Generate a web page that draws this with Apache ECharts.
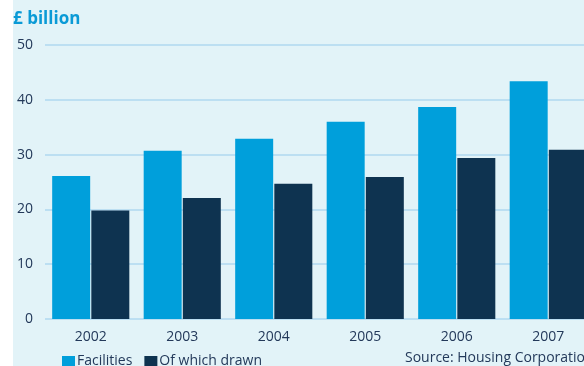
<!DOCTYPE html>
<html>
<head>
<meta charset="utf-8">
<script src="https://cdn.jsdelivr.net/npm/echarts@6/dist/echarts.min.js"></script>
<style>
  html, body { margin: 0; padding: 0; background: #ffffff; overflow: hidden; }
  #wrap { width: 584px; height: 366px; overflow: hidden; }
  #chart { width: 610px; height: 366px; }
</style>
</head>
<body>
<div id="wrap"><div id="chart"></div></div>
<script>
// Years shown on the category axis
const years = ['2002', '2003', '2004', '2005', '2006', '2007'];
// Private finance facilities, £ billion
const facilities = [26.1, 30.7, 32.9, 36.0, 38.7, 43.4];
// Of which drawn, £ billion
const drawn = [19.8, 22.1, 24.7, 25.9, 29.4, 30.9];
// Value axis ticks
const yTicks = [0, 10, 20, 30, 40, 50];

const FONT = '"Open Sans", "Noto Sans", sans-serif';
const TEXT = '#23395a';

const chart = echarts.init(document.getElementById('chart'), null, { renderer: 'canvas' });

chart.setOption({
  animation: false,
  textStyle: { fontFamily: FONT },
  graphic: [
    {
      type: 'rect', z: -10, silent: true,
      shape: { x: 13, y: 0, width: 600, height: 366 },
      style: { fill: '#e2f3f8' }
    },
    {
      type: 'text', left: 13, top: 11,
      style: { text: '£ billion', fill: '#0a9ad6', font: 'bold 17px ' + FONT }
    },
    {
      type: 'text', left: 405, top: 351,
      style: { text: 'Source: Housing Corporation', fill: TEXT, font: '14px ' + FONT }
    }
  ],
  legend: {
    left: 57, top: 349,
    itemWidth: 13, itemHeight: 10, itemGap: 12,
    icon: 'rect',
    textStyle: { color: TEXT, fontSize: 14, fontFamily: FONT, padding: [0, 0, 0, -3] },
    data: ['Facilities', 'Of which drawn']
  },
  grid: { left: 45, top: 45, width: 549, height: 274, containLabel: false },
  xAxis: {
    type: 'category',
    data: years,
    axisLine: { show: false },
    axisTick: { show: false },
    axisLabel: { color: TEXT, fontSize: 14, margin: 11, fontFamily: FONT }
  },
  yAxis: {
    type: 'value',
    min: yTicks[0], max: yTicks[yTicks.length - 1], interval: 10,
    axisLine: { show: false },
    axisTick: { show: false },
    axisLabel: { color: TEXT, fontSize: 14, margin: 12, fontFamily: FONT },
    splitLine: { lineStyle: { color: '#bcdff2', width: 2 } }
  },
  series: [
    {
      name: 'Facilities', type: 'bar', data: facilities,
      barWidth: 38, barGap: '3%',
      itemStyle: { color: '#009fdb' }
    },
    {
      name: 'Of which drawn', type: 'bar', data: drawn,
      barWidth: 38,
      itemStyle: { color: '#0e3350' }
    }
  ]
});
</script>
</body>
</html>
